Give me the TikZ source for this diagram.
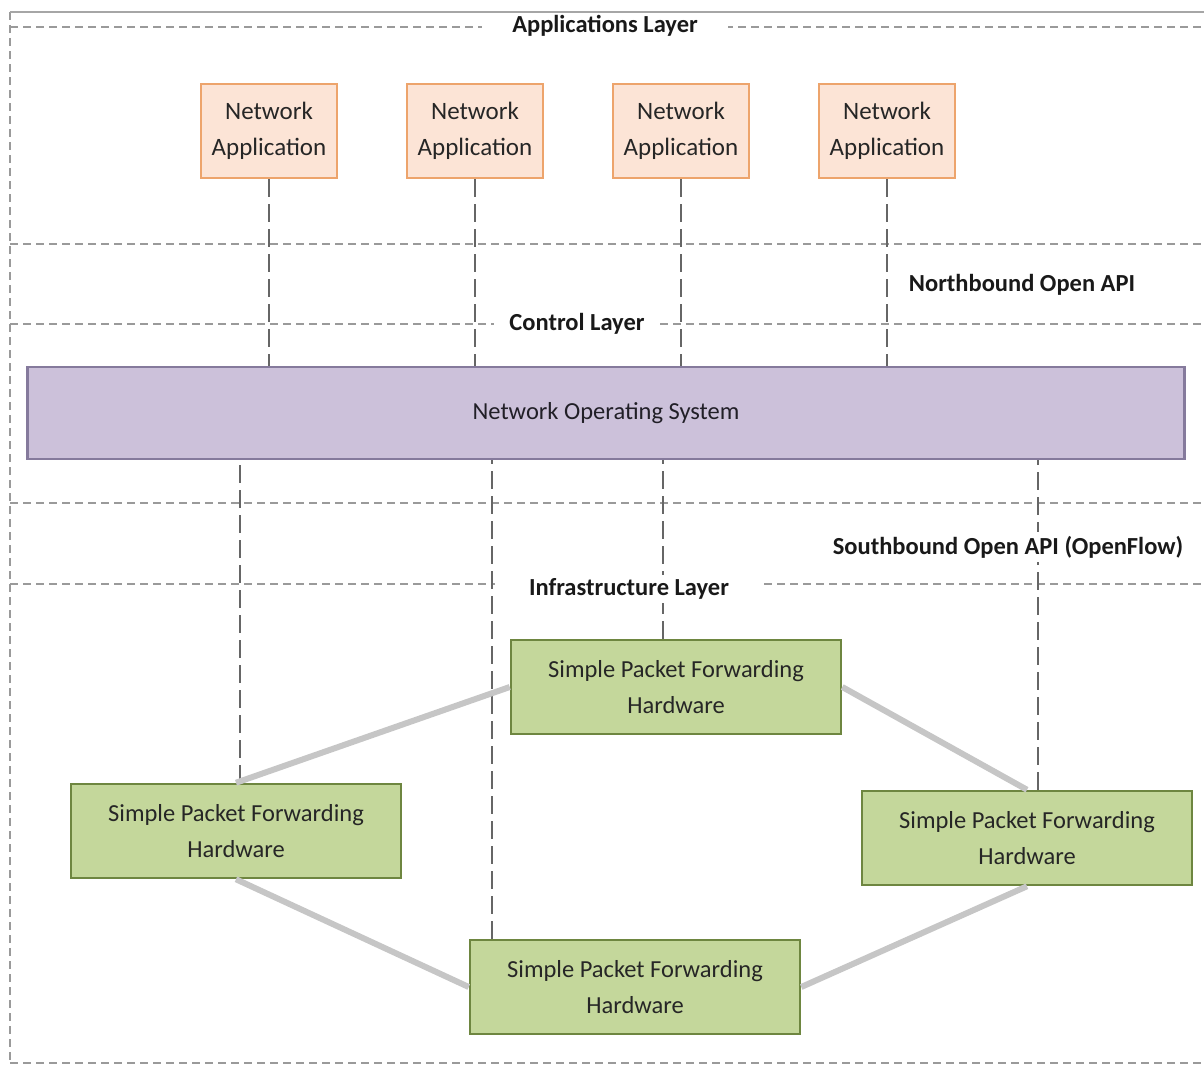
\documentclass[tikz,border=0pt]{standalone}
\usepackage{fontspec}
\setmainfont{Carlito}
\usetikzlibrary{positioning}

\definecolor{appfill}{HTML}{FCE4D6}
\definecolor{appdraw}{HTML}{EDA46C}
\definecolor{nosfill}{HTML}{CCC1DA}
\definecolor{nosdraw}{HTML}{857A9C}
\definecolor{hwfill}{HTML}{C4D79B}
\definecolor{hwdraw}{HTML}{6E8640}
\definecolor{linkgray}{HTML}{C6C6C6}
\definecolor{dashgray}{HTML}{9A9A9A}

\begin{document}
\begin{tikzpicture}[x=1pt,y=-1pt,node distance=206pt,on grid,
    app/.style={draw=appdraw,fill=appfill,line width=2.5pt,minimum width=136pt,minimum height=94pt,
                align=center,text=black!85,font=\fontsize{25}{36}\selectfont},
    nosbox/.style={draw=nosdraw,fill=nosfill,line width=2.5pt,minimum width=1157pt,minimum height=92pt,
                text=black!75!nosdraw,font=\fontsize{24.5}{28}\selectfont},
    hw/.style={draw=hwdraw,fill=hwfill,line width=2.5pt,minimum width=330pt,minimum height=94pt,
                align=center,text=black!85,font=\fontsize{24.5}{36}\selectfont},
    layerline/.style={dashgray,line width=2.5pt,dash pattern=on 8pt off 5pt},
    vline/.style={black!60,line width=2pt,dash pattern=on 18pt off 7pt},
    link/.style={linkgray,line width=6pt},
    layerlabel/.style={fill=white,inner ysep=4pt,text=black!90,font=\fontsize{24.5}{28}\selectfont\bfseries}]
    \useasboundingbox (0,0) rectangle (1204,1071);
    % \draw[help lines] (0,0) grid[step=100pt] (1204,1071);

    % layer borders
    \draw[layerline] (10,12) -- (10,1063);
    \foreach \y in {27,244,324,503,584,1063}
        \draw[layerline] (10,\y) -- (1204,\y);

    \node[app]    (app_1) at (269,131) {Network\\Application};
    \node[app]    (app_2) [right=of app_1] {Network\\Application};
    \node[app]    (app_3) [right=of app_2] {Network\\Application};
    \node[app]    (app_4) [right=of app_3] {Network\\Application};
    \node[nosbox] (nos)   at (606,413) {Network Operating System};
    \node[hw]     (hw_t)  at (676,687) {Simple Packet Forwarding\\Hardware};
    \node[hw]     (hw_l)  at (236,831) {Simple Packet Forwarding\\Hardware};
    \node[hw]     (hw_r)  at (1027,838) {Simple Packet Forwarding\\Hardware};
    \node[hw]     (hw_b)  at (635,987) {Simple Packet Forwarding\\Hardware};

    % northbound
    \foreach \a in {1,...,4}
        \draw[vline] (app_\a.south) -- (app_\a.south |- nos.north);
    % southbound
    \draw[vline] ([xshift=4pt]hw_l.north) -- ([xshift=4pt]hw_l.north |- nos.south);
    \draw[vline] ([xshift=23pt]hw_b.north west) -- ([xshift=23pt]hw_b.north west |- nos.south);
    \draw[vline] ([xshift=-13pt]hw_t.north) -- ([xshift=-13pt]hw_t.north |- nos.south);
    \draw[vline] ([xshift=11pt]hw_r.north) -- ([xshift=11pt]hw_r.north |- nos.south);

    % data plane links
    \path[link]
        (hw_l.north) edge (hw_t.west)
        (hw_t.east)  edge (hw_r.north)
        (hw_l.south) edge (hw_b.west)
        (hw_b.east)  edge (hw_r.south);

    \node[layerlabel,inner xsep=30pt] (l_app)   at (605,26)  {Applications Layer};
    \node[layerlabel,inner xsep=15pt] (l_ctl)   at (577,324) {Control Layer};
    \node[layerlabel,inner xsep=34pt] (l_infra) at (629,589) {Infrastructure Layer};
    \node[layerlabel,inner xsep=4pt]  (l_north) at (1022,285) {Northbound Open API};
    \node[layerlabel,inner xsep=4pt]  (l_south) at (1008,547) {Southbound Open API (OpenFlow)};

    % frame top
    \draw[black!35,line width=1.5pt] (10,12) -- (1204,12);
\end{tikzpicture}
\end{document}
